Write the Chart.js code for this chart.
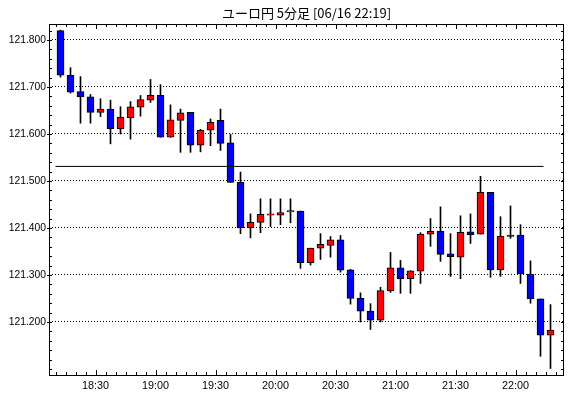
<!DOCTYPE html>
<html>
<head>
<meta charset="utf-8">
<script src="https://cdn.jsdelivr.net/npm/chart.js@4/dist/chart.umd.min.js"></script>
<style>
  html, body { margin: 0; padding: 0; background: #fff; }
  #wrap { width: 570px; height: 398px; }
</style>
</head>
<body>
<div id="wrap"><canvas id="chart_area" width="570" height="398"></canvas></div>
<script>
'use strict';

//Data (EUR/JPY 5min)
var title = 'ユーロ円 5分足 [06/16 22:19]';
var times = ['18:10','18:15','18:20','18:25','18:30','18:35','18:40','18:45','18:50','18:55',
             '19:00','19:05','19:10','19:15','19:20','19:25','19:30','19:35','19:40','19:45',
             '19:50','19:55','20:00','20:05','20:10','20:15','20:20','20:25','20:30','20:35',
             '20:40','20:45','20:50','20:55','21:00','21:05','21:10','21:15','21:20','21:25',
             '21:30','21:35','21:40','21:45','21:50','21:55','22:00','22:05','22:10','22:15'];
var opens  = [121.820,121.725,121.690,121.679,121.646,121.653,121.611,121.634,121.657,121.672,
              121.682,121.593,121.629,121.646,121.576,121.608,121.629,121.581,121.497,121.400,
              121.412,121.427,121.427,121.434,121.436,121.326,121.357,121.363,121.375,121.311,
              121.251,121.223,121.204,121.266,121.315,121.292,121.308,121.387,121.393,121.345,
              121.338,121.392,121.387,121.476,121.311,121.385,121.385,121.302,121.249,121.172];
var highs  = [121.821,121.741,121.722,121.684,121.675,121.672,121.658,121.669,121.682,121.716,
              121.705,121.662,121.653,121.646,121.610,121.632,121.653,121.599,121.519,121.430,
              121.462,121.462,121.462,121.462,121.436,121.357,121.388,121.382,121.384,121.312,
              121.262,121.239,121.274,121.348,121.331,121.309,121.390,121.420,121.445,121.388,
              121.426,121.430,121.510,121.476,121.424,121.447,121.407,121.330,121.249,121.237];
var lows   = [121.721,121.687,121.623,121.623,121.637,121.579,121.600,121.589,121.638,121.667,
              121.593,121.593,121.561,121.561,121.562,121.575,121.565,121.497,121.388,121.379,
              121.390,121.403,121.407,121.411,121.314,121.321,121.333,121.338,121.306,121.238,
              121.200,121.184,121.200,121.263,121.261,121.261,121.282,121.361,121.329,121.297,
              121.292,121.367,121.387,121.295,121.297,121.378,121.282,121.240,121.127,121.101];
var closes = [121.725,121.689,121.679,121.646,121.653,121.611,121.636,121.658,121.673,121.682,
              121.593,121.630,121.645,121.576,121.608,121.625,121.580,121.497,121.400,121.412,
              121.429,121.430,121.433,121.437,121.326,121.357,121.365,121.375,121.310,121.250,
              121.223,121.204,121.267,121.315,121.292,121.309,121.387,121.393,121.344,121.339,
              121.391,121.386,121.476,121.311,121.383,121.382,121.302,121.249,121.172,121.183];
var prevClose = 121.531;
var prevCloseFrom = '18:10';
var prevCloseTo = '22:14';

var timeTicks  = ['18:30','19:00','19:30','20:00','20:30','21:00','21:30','22:00'];
var priceTicks = ['121.200','121.300','121.400','121.500','121.600','121.700','121.800'];

//Colors
var upColor = '#ff0000';
var downColor = '#0000ff';
var lineColor = '#000000';

//Helpers
var toMin = function(t){
    var p = t.split(':');
    return (parseInt(p[0],10) - 18) * 60 + parseInt(p[1],10);
};
var toTime = function(m){
    var h = 18 + Math.floor(m / 60);
    var mm = Math.round(m % 60);
    return h + ':' + (mm < 10 ? '0' + mm : mm);
};

var bodies = [], wicks = [], bodyColors = [];
for (var i = 0; i < times.length; i++) {
    var x = toMin(times[i]) + 2.5;       //candle drawn in the middle of its 5 minutes
    bodies.push({ x: x, y: [opens[i], closes[i]] });
    wicks.push({ x: x, y: [lows[i], highs[i]] });
    bodyColors.push(closes[i] >= opens[i] ? upColor : downColor);
}

//Inward tick marks + frame
var frameTicks = {
    id: 'frameTicks',
    afterDraw: function(chart){
        var ctx = chart.ctx, a = chart.chartArea;
        var xs = chart.scales.x, ys = chart.scales.y;
        ctx.save();
        ctx.strokeStyle = lineColor;
        ctx.lineWidth = 1;
        ctx.beginPath();
        xs.ticks.forEach(function(t){
            var px = Math.round(xs.getPixelForValue(t.value)) + 0.5;
            var len = timeTicks.indexOf(toTime(t.value)) >= 0 ? 5 : 3;
            ctx.moveTo(px, a.bottom); ctx.lineTo(px, a.bottom - len);
            ctx.moveTo(px, a.top); ctx.lineTo(px, a.top + len);
        });
        ys.ticks.forEach(function(t){
            var py = Math.round(ys.getPixelForValue(t.value)) + 0.5;
            var major = priceTicks.indexOf(t.value.toFixed(3)) >= 0;
            ctx.moveTo(a.left - (major ? 2 : 0), py); ctx.lineTo(a.left + 3, py);
            ctx.moveTo(a.right - 3, py); ctx.lineTo(a.right, py);
        });
        ctx.stroke();
        ctx.strokeRect(a.left + 0.5, a.top + 0.5, a.right - a.left - 1, a.bottom - a.top);
        ctx.restore();
    }
};

var config = {
    type: 'bar',
    data: {
        datasets: [
            {
                type: 'line',
                data: [{ x: toMin(prevCloseFrom), y: prevClose }, { x: toMin(prevCloseTo), y: prevClose }],
                borderColor: lineColor,
                borderWidth: 1,
                pointRadius: 0,
                order: 0
            },
            {
                data: bodies,
                backgroundColor: bodyColors,
                borderColor: lineColor,
                borderWidth: 1,
                borderSkipped: false,
                barThickness: 7,
                grouped: false,
                order: 1
            },
            {
                data: wicks,
                backgroundColor: lineColor,
                borderWidth: 0,
                barThickness: 1,
                grouped: false,
                order: 2
            }
        ]
    },
    options: {
        responsive: false,
        animation: false,
        layout: { padding: { left: 0, right: 6, top: 0, bottom: 0 } },
        plugins: {
            legend: { display: false },
            tooltip: { enabled: false },
            title: {
                display: true,
                text: title,
                fullSize: false,
                color: '#000',
                font: { family: 'Noto Sans CJK JP', size: 13, weight: 'normal', lineHeight: 1.2 },
                padding: { top: 5, bottom: 3.4 }
            }
        },
        scales: {
            x: {
                type: 'linear',
                offset: false,
                min: 6.75,
                max: 264.25,
                grid: { display: false, drawTicks: false },
                border: { display: false },
                ticks: {
                    stepSize: 5,
                    includeBounds: false,
                    autoSkip: false,
                    maxRotation: 0,
                    padding: 5,
                    color: '#000',
                    font: { family: 'Liberation Sans', size: 10.8 },
                    callback: function(v){
                        var t = toTime(v);
                        return timeTicks.indexOf(t) >= 0 ? t : '';
                    }
                },
                afterFit: function(scale){ scale.height = 23; }
            },
            y: {
                min: 121.0872,
                max: 121.8340,
                grid: {
                    drawTicks: false,
                    color: function(c){
                        return c.tick && priceTicks.indexOf(c.tick.value.toFixed(3)) >= 0 ? '#000' : 'rgba(0,0,0,0)';
                    }
                },
                border: { display: false, dash: [1, 2] },
                ticks: {
                    stepSize: 0.02,
                    includeBounds: false,
                    autoSkip: false,
                    padding: 3,
                    color: '#000',
                    font: { family: 'Liberation Sans', size: 10.3 },
                    callback: function(v){
                        var s = v.toFixed(3);
                        return priceTicks.indexOf(s) >= 0 ? s : '';
                    }
                },
                afterFit: function(scale){ scale.width = 49; }
            }
        }
    },
    plugins: [frameTicks]
};

var ctx = document.getElementById('chart_area').getContext('2d');
window.myChart = new Chart(ctx, config);
</script>
</body>
</html>
